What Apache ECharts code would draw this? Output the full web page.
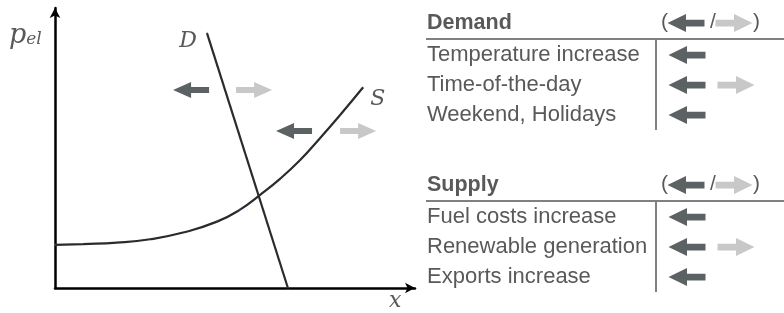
<!DOCTYPE html>
<html>
<head>
<meta charset="utf-8">
<script src="https://cdn.jsdelivr.net/npm/echarts@6/dist/echarts.min.js"></script>
<style>
  html, body { margin: 0; padding: 0; background: #fff; }
  #main { width: 784px; height: 313px; }
</style>
</head>
<body>
<div id="main"></div>
<script>
// supply curve S
var supplyX = [0, 7.8, 17.2, 26.4, 35.6, 45.0, 51.4, 56.9, 62.5, 68.1, 73.6, 79.2, 85.6];
var supplyY = [15.4, 15.7, 16.2, 17.4, 19.8, 23.7, 28.0, 33.2, 39.0, 45.7, 53.5, 61.8, 71.7];
// demand line D
var demandX = [42.2, 64.7];
var demandY = [91.1, 0];
// shift arrows in the plot
var leftShifts = [[37.8, 70.7], [66.4, 56.1]];
var rightShifts = [[55.3, 70.7], [84.2, 56.1]];

// table
var demandFactors = ['Temperature increase', 'Time-of-the-day', 'Weekend, Holidays'];
var demandEffects = ['left', 'both', 'left'];
var supplyFactors = ['Fuel costs increase', 'Renewable generation', 'Exports increase'];
var supplyEffects = ['left', 'both', 'left'];

var DARK = '#5c6263';
var LIGHT = '#c8c8c8';
var TEXT = '#595959';
var MATH = '"DejaVu Serif", serif';
var LEFT_ARROW = 'path://M0,8 L18,0 L18,5 L36,5 L36,11 L18,11 L18,16 Z';
var RIGHT_ARROW = 'path://M36,8 L18,0 L18,5 L0,5 L0,11 L18,11 L18,16 Z';

var chartDom = document.getElementById('main');
var myChart = echarts.init(chartDom);

// table layout
var tableLeft = 427;
var colX = 656;
var sections = [
  { title: 'Demand', top: 23, factors: demandFactors, effects: demandEffects },
  { title: 'Supply', top: 185, factors: supplyFactors, effects: supplyEffects }
];

var graphics = [];
var tableLeftPts = [];
var tableRightPts = [];
sections.forEach(function (sec) {
  graphics.push({
    type: 'text', left: tableLeft, top: sec.top - 11,
    style: { text: sec.title, font: 'bold 21.5px "Liberation Sans", Arial', fill: TEXT }
  });
  graphics.push({
    type: 'text', left: 661, top: sec.top - 11,
    style: { text: '(', font: '21px "Liberation Sans", Arial', fill: TEXT }
  });
  graphics.push({
    type: 'text', left: 710, top: sec.top - 11,
    style: { text: '/', font: '21px "Liberation Sans", Arial', fill: TEXT }
  });
  graphics.push({
    type: 'text', left: 753, top: sec.top - 11,
    style: { text: ')', font: '21px "Liberation Sans", Arial', fill: TEXT }
  });
  tableLeftPts.push([686 - colX, sec.top]);
  tableRightPts.push([734 - colX, sec.top]);
  graphics.push({
    type: 'line', shape: { x1: 426, y1: sec.top + 16, x2: 784, y2: sec.top + 16 },
    style: { stroke: '#808080', lineWidth: 2 }
  });
  graphics.push({
    type: 'line', shape: { x1: colX, y1: sec.top + 16, x2: colX, y2: sec.top + 107 },
    style: { stroke: '#808080', lineWidth: 2 }
  });
  sec.factors.forEach(function (f, i) {
    var y = sec.top + 32 + 30 * i;
    graphics.push({
      type: 'text', left: tableLeft, top: y - 11,
      style: { text: f, font: '22px "Liberation Sans", Arial', fill: TEXT }
    });
    tableLeftPts.push([687 - colX, y]);
    if (sec.effects[i] === 'both') tableRightPts.push([736 - colX, y]);
  });
});

graphics.push({
  type: 'text', left: 9, top: 22,
  style: {
    text: '{p|p}{s|el}',
    rich: {
      p: { font: 'italic 27px ' + MATH, fill: TEXT, verticalAlign: 'bottom' },
      s: { font: 'italic 17px ' + MATH, fill: TEXT, verticalAlign: 'bottom', padding: [0, 0, 1, 0] }
    }
  }
});
graphics.push({
  type: 'text', left: 389, top: 290,
  style: { text: 'x', font: 'italic 22px ' + MATH, fill: TEXT }
});

var mathLabel = function (txt, pos, off) {
  return {
    show: true, position: pos, offset: off, formatter: txt,
    fontFamily: MATH, fontStyle: 'italic', fontSize: 22, color: TEXT
  };
};

var option = {
  animation: false,
  grid: [
    { left: 55, top: 8, right: 369, bottom: 25 },
    { left: colX, top: 0, right: 0, bottom: 0 }
  ],
  xAxis: [
    {
      type: 'value', min: 0, max: 100, gridIndex: 0,
      axisLine: { show: true, symbol: ['none', 'arrow'], symbolSize: [8, 10], lineStyle: { color: '#000', width: 2.5 } },
      axisTick: { show: false }, axisLabel: { show: false }, splitLine: { show: false }
    },
    { type: 'value', min: 0, max: 128, gridIndex: 1, show: false }
  ],
  yAxis: [
    {
      type: 'value', min: 0, max: 100, gridIndex: 0,
      axisLine: { show: true, symbol: ['none', 'arrow'], symbolSize: [8, 10], lineStyle: { color: '#000', width: 2.5 } },
      axisTick: { show: false }, axisLabel: { show: false }, splitLine: { show: false }
    },
    { type: 'value', min: 0, max: 313, inverse: true, gridIndex: 1, show: false }
  ],
  graphic: graphics,
  series: [
    {
      type: 'line', name: 'S', smooth: 0.5,
      showSymbol: true, symbolSize: 0.1, silent: true,
      lineStyle: { color: '#2b2b2b', width: 2.2 },
      data: supplyX.map(function (x, i) {
        var pt = { value: [x, supplyY[i]] };
        if (i === supplyX.length - 1) pt.label = mathLabel('S', 'right', [1, 12]);
        return pt;
      })
    },
    {
      type: 'line', name: 'D', showSymbol: true, symbolSize: 0.1, silent: true,
      lineStyle: { color: '#2b2b2b', width: 2.2 },
      data: demandX.map(function (x, i) {
        var pt = { value: [x, demandY[i]] };
        if (i === 0) pt.label = mathLabel('D', 'left', [-4, 8]);
        return pt;
      })
    },
    {
      type: 'scatter', silent: true, symbol: LEFT_ARROW, symbolSize: [36, 16],
      itemStyle: { color: DARK, opacity: 1 }, data: leftShifts
    },
    {
      type: 'scatter', silent: true, symbol: RIGHT_ARROW, symbolSize: [36, 16],
      itemStyle: { color: LIGHT, opacity: 1 }, data: rightShifts
    },
    {
      type: 'scatter', silent: true, xAxisIndex: 1, yAxisIndex: 1,
      symbol: LEFT_ARROW, symbolSize: [37, 18],
      itemStyle: { color: DARK, opacity: 1 }, data: tableLeftPts
    },
    {
      type: 'scatter', silent: true, xAxisIndex: 1, yAxisIndex: 1,
      symbol: RIGHT_ARROW, symbolSize: [37, 18],
      itemStyle: { color: LIGHT, opacity: 1 }, data: tableRightPts
    }
  ]
};

option && myChart.setOption(option);
</script>
</body>
</html>
